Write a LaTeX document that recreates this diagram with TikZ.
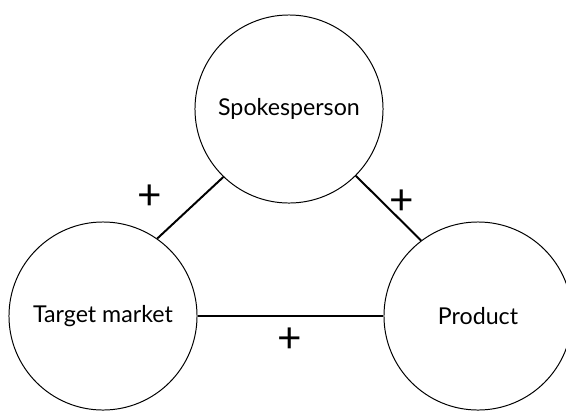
\documentclass[tikz,border=0pt]{standalone}
\usepackage{fontspec}
\setmainfont{Lato}

\tikzset{
  party/.style={draw, circle, line width=0.7pt, minimum size=4.7cm, inner sep=0pt, font=\fontsize{16.5}{19}\selectfont},
  link/.style={line width=1.4pt},
  sign/.style={font=\fontsize{30}{32}\selectfont, inner sep=0pt}
}

\begin{document}
\begin{tikzpicture}[x=0.025cm, y=-0.025cm]
% Fix the page size and cut off what runs past it
\useasboundingbox (0,0) rectangle (566,410);
\clip (0,0) rectangle (566,410);

% The three circles
\node[party] (spokes) at (289,109) {Spokesperson};
\node[party] (market) at (103,316) {Target market};
\node[party] (product) at (478,316) {Product};

% Lines between them
\draw[link] (market.55) -- (spokes.226);
\draw[link] (spokes.315) -- (product.127);
\draw[link] (market.east) -- (product.west);

% Plus signs
\node[sign] (plusleft) at (150,197) {+};
\node[sign] (plusright) at (402,202) {+};
\node[sign] (plusbottom) at (290,340) {+};
\end{tikzpicture}
\end{document}
